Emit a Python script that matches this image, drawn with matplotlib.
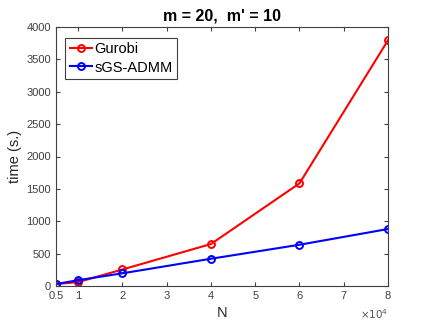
import numpy as np
import matplotlib.pyplot as plt

plt.rcParams['font.family'] = ['Liberation Sans', 'DejaVu Sans']

N = [5000, 10000, 20000, 40000, 60000, 80000]
gurobi = [30, 60, 255, 648, 1585, 3795]
sgs_admm = [30, 90, 196, 421, 637, 880]

xticks = [5000, 10000, 20000, 30000, 40000, 50000, 60000, 70000, 80000]
xticklabels = ['0.5', '1', '2', '3', '4', '5', '6', '7', '8']
yticks = [0, 500, 1000, 1500, 2000, 2500, 3000, 3500, 4000]

fig = plt.figure(figsize=(4.28, 3.27), dpi=100)
ax = fig.add_axes([56/428, 1 - 286/327, (388 - 56)/428, (286 - 27)/327])

ax.plot(N, gurobi, '-o', color='red', lw=1.5, ms=5, mfc='none', mew=1.4, label='Gurobi')
ax.plot(N, sgs_admm, '-o', color='blue', lw=1.5, ms=5, mfc='none', mew=1.4, label='sGS-ADMM')

ax.set_xlim(5000, 80000)
ax.set_ylim(0, 4000)
ax.set_xticks(xticks, xticklabels)
ax.set_yticks(yticks)
gray = '#404040'
ax.tick_params(direction='in', top=True, right=True, labelsize=8, colors=gray, length=3)
for s in ax.spines.values():
    s.set_color(gray)
    s.set_linewidth(0.8)

ax.set_xlabel('N', fontsize=10.5, color='#262626', labelpad=4)
ax.set_ylabel('time (s.)', fontsize=10.5, color='#262626', labelpad=3)
ax.set_title("m = 20,  m' = 10", fontsize=11.5, fontweight='bold', pad=5)
ax.text(1.0, -0.128, r'$\times 10^4$', transform=ax.transAxes, ha='right', va='baseline',
        fontsize=7.5, color='#555555')

leg = ax.legend(loc='upper left', fontsize=10.5, fancybox=False, framealpha=1,
                edgecolor=gray, borderpad=0.3, handlelength=1.5, handletextpad=0.2,
                labelspacing=0.3, bbox_to_anchor=(0.015, 0.975), borderaxespad=0.3)
leg.get_frame().set_linewidth(0.8)

fig.savefig('out.png', dpi=100)
